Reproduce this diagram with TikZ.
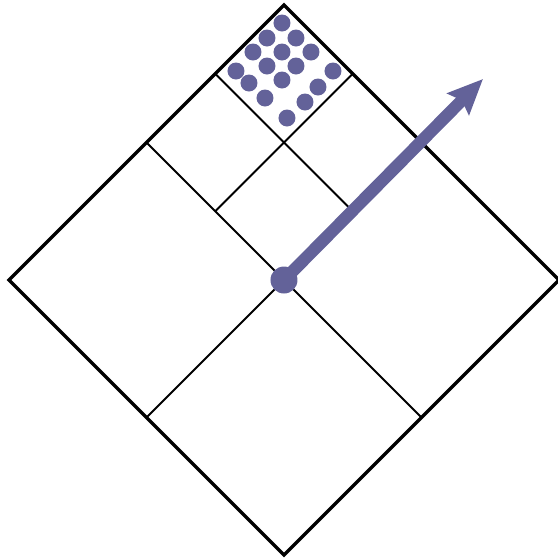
\documentclass[tikz,border=0pt]{standalone}
\usepackage{xcolor}
\usetikzlibrary{arrows.meta}
\definecolor{dotblue}{RGB}{99,98,153}

\begin{document}
\begin{tikzpicture}[>=latex]
    \useasboundingbox (-5.68,-5.56) rectangle (5.48,5.6);
    % --- corners of the big diamond and its centre
    \coordinate (N) at (0,5.5);
    \coordinate (W) at (-5.5,0);
    \coordinate (E) at (5.5,0);
    \coordinate (S) at (0,-5.5);
    \coordinate (O) at (0,0);
    % --- inner cross and the split of the top quarter
    \draw[line width=1.2pt] (-2.75,2.75) -- (2.75,-2.75);
    \draw[line width=1.2pt] (-2.75,-2.75) -- (2.75,2.75);
    \draw[line width=1.2pt] (-1.375,4.125) -- (1.375,1.375);
    \draw[line width=1.2pt] (-1.375,1.375) -- (1.375,4.125);
    \draw[line width=2pt,line join=miter] (N) -- (E) -- (S) -- (W) -- cycle;
    % --- dots in the top cell
    \foreach \p in {(-0.04,5.14),(-0.34,4.84),(0.24,4.84),(-0.62,4.56),
                    (-0.04,4.56),(0.54,4.56),(-0.96,4.18),(-0.34,4.28),
                    (0.24,4.28),(0.98,4.18),(-0.70,3.94),(-0.04,4.00),
                    (0.68,3.86),(-0.38,3.64),(0.42,3.56),(0.06,3.24)}
      {\fill[dotblue] \p circle (0.17);}
    % --- vector from the centre
    \coordinate (tip) at (3.98,4.02);
    \draw[dotblue,line width=7pt,-{Stealth[length=0.7cm,width=0.6cm,inset=0.1cm]}] (O) -- (tip);
    \fill[dotblue] (O) circle (0.27);
\end{tikzpicture}
\end{document}
